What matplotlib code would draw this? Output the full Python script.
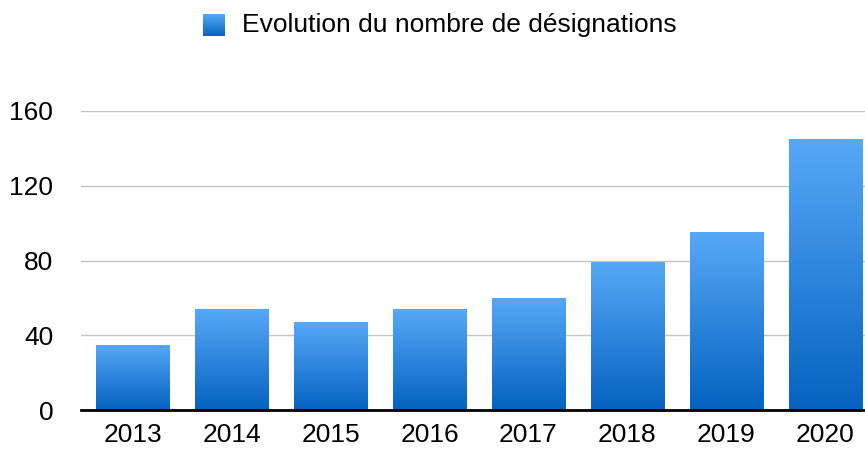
import numpy as np
import matplotlib
matplotlib.use("Agg")
import matplotlib.pyplot as plt
from matplotlib.colors import LinearSegmentedColormap

years = ["2013", "2014", "2015", "2016", "2017", "2018", "2019", "2020"]
counts = [35, 54, 47, 54, 60, 79, 95, 145]
series_label = "Evolution du nombre de désignations"
yticks = [0, 40, 80, 120, 160]

plt.rcParams['font.family'] = ['Liberation Sans', 'DejaVu Sans']

W, H = 865, 451
fig = plt.figure(figsize=(W / 100, H / 100), dpi=100)
ax = fig.add_axes([81 / W, 41 / H, 1 - 81 / W, (410 - 111) / H])

# blue vertical gradient, light on top
grad_cmap = LinearSegmentedColormap.from_list("blues", ["#0562c0", "#56a9f8"])
gradient = np.linspace(0, 1, 256).reshape(-1, 1)

x = np.arange(len(years))
bars = ax.bar(x, counts, width=0.74, color="none", edgecolor="none", zorder=2)
for b in bars:
    x0, y0 = b.get_x(), b.get_y()
    im = ax.imshow(gradient, cmap=grad_cmap, origin="lower", aspect="auto",
                   extent=[x0, x0 + b.get_width(), y0, y0 + b.get_height()], zorder=2)
    im.set_clip_path(b)

ax.set_xlim(-0.52, 7.40)
ax.set_ylim(0, 160)
ax.set_yticks(yticks)
ax.set_xticks(x)
ax.set_xticklabels(years)
ax.tick_params(axis="both", length=0, labelsize=19)
ax.tick_params(axis="y", pad=20)
ax.tick_params(axis="x", pad=9)

ax.grid(axis="y", color="#c4c4c4", linewidth=1)
ax.set_axisbelow(True)
for s in ["top", "right", "left"]:
    ax.spines[s].set_visible(False)
ax.spines["bottom"].set_linewidth(2)
ax.spines["bottom"].set_color("black")
ax.spines["bottom"].set_zorder(3)

# legend: gradient square + label
lax = fig.add_axes([203 / W, 1 - 36 / H, 22 / W, 22 / H])
lax.imshow(gradient, cmap=grad_cmap, origin="lower", aspect="auto")
lax.axis("off")
fig.text(242 / W, 1 - 25 / H, series_label, fontsize=19, ha="left", va="center")

fig.savefig("out.png", dpi=100)
